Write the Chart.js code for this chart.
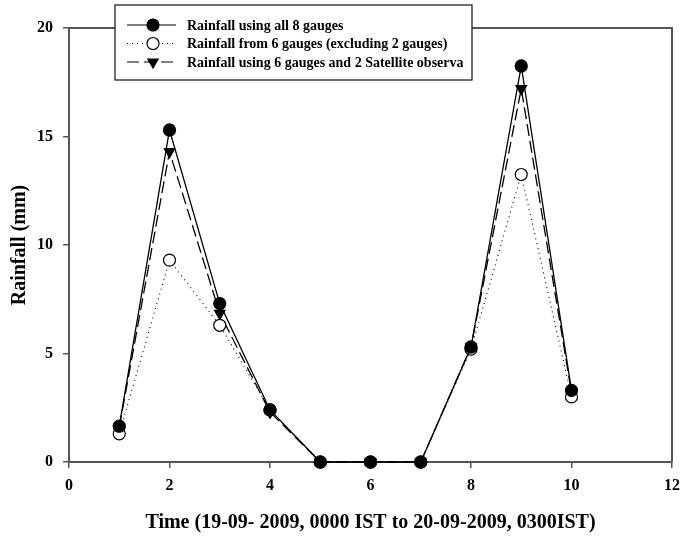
<!DOCTYPE html>
<html>
<head>
<meta charset="utf-8">
<script src="https://cdn.jsdelivr.net/npm/chart.js@4/dist/chart.umd.min.js"></script>
<style>
  html, body { margin: 0; padding: 0; background: #fff; }
  #wrap { width: 685px; height: 539px; }
</style>
</head>
<body>
<div id="wrap"><canvas id="myChart"></canvas></div>
<script>
const hours = [1, 2, 3, 4, 5, 6, 7, 8, 9, 10];

const all8 = [1.65, 15.3, 7.3, 2.4, 0, 0, 0, 5.3, 18.25, 3.3];
const six = [1.3, 9.3, 6.3, 2.4, 0, 0, 0, 5.2, 13.25, 3.0];
const sixSat = [1.6, 14.3, 6.85, 2.3, 0, 0, 0, 5.3, 17.2, 3.2];

const seriesLabels = [
  "Rainfall using all 8 gauges",
  "Rainfall from 6 gauges (excluding 2 gauges)",
  "Rainfall using 6 gauges and 2 Satellite observa",
];

const serif = "'Liberation Serif', 'Times New Roman', serif";
const toXY = (vals) => vals.map((v, i) => ({ x: hours[i], y: v }));

// draws the top/right frame lines
const framePlugin = {
  id: "frame",
  beforeDatasetsDraw(chart) {
    const { ctx, chartArea: a } = chart;
    ctx.save();
    ctx.strokeStyle = "#555";
    ctx.lineWidth = 2;
    ctx.beginPath();
    ctx.moveTo(a.left, a.top);
    ctx.lineTo(a.right, a.top);
    ctx.lineTo(a.right, a.bottom);
    ctx.stroke();
    ctx.restore();
  },
};

// boxed legend in the top-left corner
const boxLegend = {
  id: "boxLegend",
  afterDraw(chart) {
    const ctx = chart.ctx;
    ctx.save();
    ctx.fillStyle = "#fff";
    ctx.fillRect(115, 5, 357, 75);
    ctx.strokeStyle = "#222";
    ctx.lineWidth = 1.3;
    ctx.strokeRect(115, 5, 357, 75);
    const rows = [25, 43.5, 62];
    chart.data.datasets.forEach((ds, i) => {
      const y = rows[i];
      ctx.strokeStyle = "#000";
      ctx.lineWidth = 1.2;
      ctx.setLineDash(ds.borderDash || []);
      ctx.beginPath();
      ctx.moveTo(127, y);
      ctx.lineTo(176, y);
      ctx.stroke();
      ctx.setLineDash([]);
      ctx.fillStyle = ds.pointBackgroundColor;
      ctx.strokeStyle = "#000";
      ctx.lineWidth = 1.2;
      Chart.helpers.drawPoint(ctx, {
        pointStyle: ds.pointStyle,
        radius: ds.pointRadius,
        rotation: ds.pointRotation || 0,
        borderWidth: 1.2,
      }, 153, y);
      ctx.fillStyle = "#000";
      ctx.font = "bold 14px " + serif;
      ctx.textBaseline = "middle";
      ctx.fillText(ds.label, 187, y + 1);
    });
    ctx.restore();
  },
};

const ctx = document.querySelector("#myChart").getContext("2d");

const data = {
  datasets: [
    {
      label: seriesLabels[0],
      data: toXY(all8),
      borderColor: "#000",
      borderWidth: 1.3,
      pointStyle: "circle",
      pointRadius: 6,
      pointBackgroundColor: "#000",
      pointBorderColor: "#000",
    },
    {
      label: seriesLabels[1],
      data: toXY(six),
      borderColor: "#000",
      borderWidth: 1.1,
      borderDash: [1, 4],
      pointStyle: "circle",
      pointRadius: 6,
      pointBackgroundColor: "#fff",
      pointBorderColor: "#000",
      pointBorderWidth: 1.2,
    },
    {
      label: seriesLabels[2],
      data: toXY(sixSat),
      borderColor: "#000",
      borderWidth: 1.3,
      borderDash: [12, 5],
      pointStyle: "triangle",
      pointRotation: 180,
      pointRadius: 6,
      pointBackgroundColor: "#000",
      pointBorderColor: "#000",
    },
  ],
};

const config = {
  type: "line",
  data,
  plugins: [framePlugin, boxLegend],
  options: {
    responsive: true,
    maintainAspectRatio: false,
    animation: false,
    layout: { padding: { top: 28, right: 13, left: 0, bottom: 0 } },
    elements: { line: { tension: 0, fill: false }, point: { hoverRadius: 6 } },
    datasets: { line: { clip: false } },
    plugins: { legend: { display: false }, tooltip: { enabled: false } },
    scales: {
      x: {
        type: "linear",
        min: 0,
        max: 12,
        ticks: {
          stepSize: 2,
          color: "#000",
          padding: 8,
          font: { family: serif, size: 16, weight: "bold" },
        },
        grid: { drawOnChartArea: false, tickLength: 6, color: "#555", lineWidth: 1.5 },
        border: { color: "#555", width: 2 },
        title: {
          display: true,
          text: "Time (19-09- 2009, 0000 IST to 20-09-2009, 0300IST)",
          color: "#000",
          font: { family: serif, size: 20, weight: "bold" },
          padding: { top: 11 },
        },
        afterFit: (s) => { s.height = 77; s.paddingRight = 0; s.paddingLeft = 0; },
      },
      y: {
        min: 0,
        max: 20,
        ticks: {
          stepSize: 5,
          color: "#000",
          padding: 10,
          font: { family: serif, size: 16, weight: "bold" },
        },
        grid: { drawOnChartArea: false, tickLength: 6, color: "#555", lineWidth: 1.5 },
        border: { color: "#555", width: 2 },
        title: {
          display: true,
          text: "Rainfall (mm)",
          color: "#000",
          font: { family: serif, size: 20, weight: "bold" },
          padding: { top: 8, bottom: 4 },
        },
        afterFit: (s) => { s.width = 69; },
      },
    },
  },
};

const myChart = new Chart(ctx, config);
</script>
</body>
</html>
